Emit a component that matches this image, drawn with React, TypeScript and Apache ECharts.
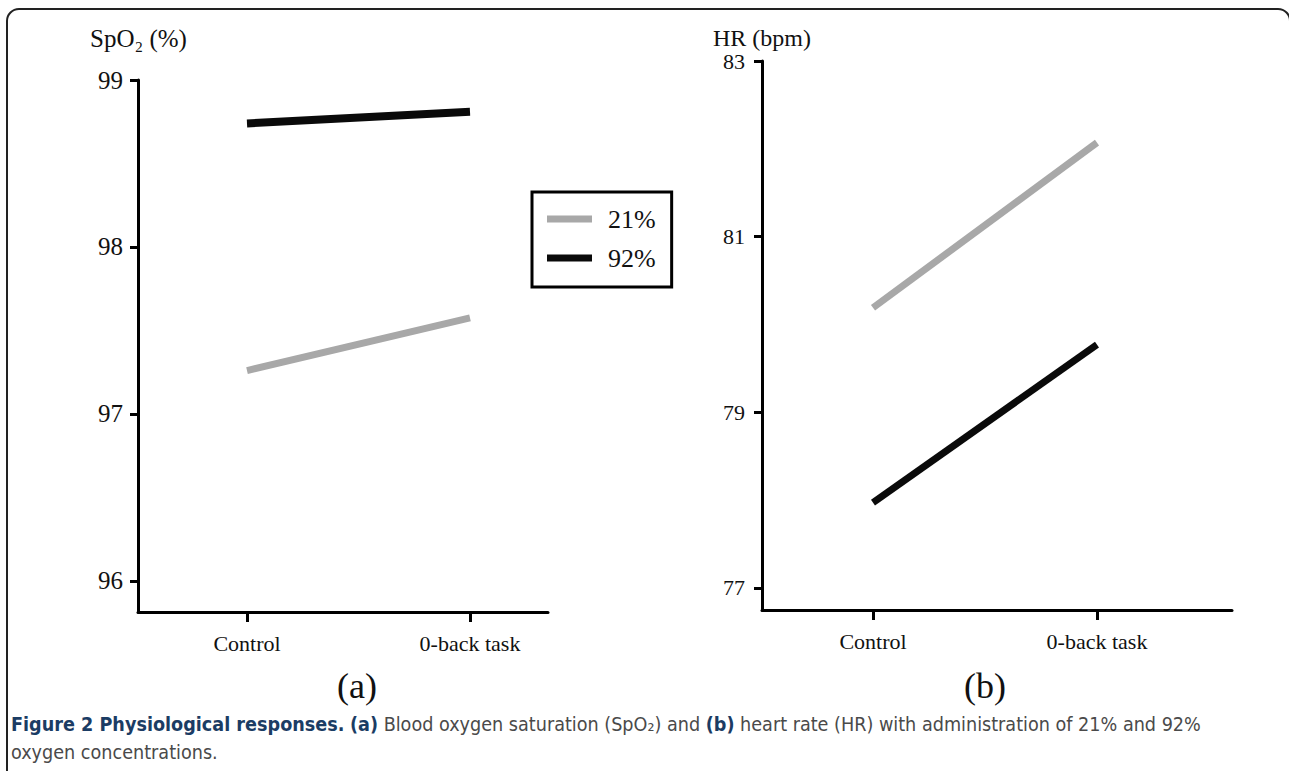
import React, { useEffect, useRef } from "react";
import * as echarts from "echarts";

const categories = ["Control", "0-back task"];
const seriesNames = ["21%", "92%"];
const spo2_21 = [97.26, 97.575];
const spo2_92 = [98.74, 98.81];
const hr_21 = [80.19, 82.07];
const hr_92 = [77.97, 79.77];
const spo2Ticks = [96, 97, 98, 99];
const hrTicks = [77, 79, 81, 83];

const SERIF = "'Liberation Serif', 'Times New Roman', serif";
const CAP = "'Liberation Sans Narrow', 'DejaVu Sans Condensed', 'Open Sans', sans-serif";

const toXY = (arr: number[]) => arr.map((v, i) => [i, v]);

export default function App() {
  const ref = useRef<HTMLDivElement>(null);
  useEffect(() => {
    if (!ref.current) return;
    const chart = echarts.init(ref.current, null, { renderer: "svg" });
    const axisLine = { show: true, onZero: false, lineStyle: { color: "#000", width: 3 } };
    const xAxisBase = (gridIndex: number, min: number, max: number) => ({
      gridIndex,
      type: "value",
      min,
      max,
      splitLine: { show: false },
      axisLine,
      axisTick: { show: true, customValues: [0, 1], length: 10, lineStyle: { color: "#000", width: 3 } },
      axisLabel: {
        show: true,
        customValues: [0, 1],
        formatter: (v: number) => categories[Math.round(v)] ?? "",
        fontFamily: SERIF,
        fontSize: 22,
        color: "#111",
        margin: 20,
      },
    });
    const yAxisBase = (gridIndex: number, min: number, max: number, ticks: number[], fs: number, margin: number) => ({
      gridIndex,
      type: "value",
      min,
      max,
      splitLine: { show: false },
      axisLine,
      axisTick: { show: true, customValues: ticks, length: 8, lineStyle: { color: "#000", width: 3 } },
      axisLabel: {
        show: true,
        customValues: ticks,
        fontFamily: SERIF,
        fontSize: fs,
        color: "#111",
        margin,
      },
    });
    const lineSeries = (name: string, data: number[], color: string, w: number, idx: number) => ({
      name,
      type: "line",
      xAxisIndex: idx,
      yAxisIndex: idx,
      data: toXY(data),
      symbol: "none",
      lineStyle: { color, width: w, cap: "butt" },
      itemStyle: { color },
      silent: true,
    });
    const option: any = {
      animation: false,
      backgroundColor: "#fff",
      grid: [
        { left: 138, top: 80, width: 410, height: 532 },
        { left: 762, top: 61, width: 470, height: 549 },
      ],
      xAxis: [xAxisBase(0, -0.4888, 1.3498), xAxisBase(1, -0.4955, 1.6027)],
      yAxis: [
        yAxisBase(0, 95.814, 99, spo2Ticks, 25, 15),
        yAxisBase(1, 76.748, 83, hrTicks, 22, 17),
      ],
      legend: {
        orient: "vertical",
        left: 532,
        top: 192,
        data: seriesNames,
        icon: "rect",
        itemWidth: 45,
        itemHeight: 7,
        itemGap: 13,
        padding: [14, 16, 16, 15],
        borderColor: "#000",
        borderWidth: 3,
        textStyle: { fontFamily: SERIF, fontSize: 26, color: "#111", padding: [0, 0, 0, 11], lineHeight: 26 },
      },
      series: [
        lineSeries(seriesNames[0], spo2_21, "#a8a8a8", 7, 0),
        lineSeries(seriesNames[1], spo2_92, "#0a0a0a", 8, 0),
        lineSeries(seriesNames[0], hr_21, "#a8a8a8", 7, 1),
        lineSeries(seriesNames[1], hr_92, "#0a0a0a", 7, 1),
      ],
      graphic: [
        {
          type: "rect",
          shape: { x: 7, y: 9, width: 1283, height: 800, r: 12 },
          style: { fill: "none", stroke: "#222", lineWidth: 2 },
          silent: true,
        },
        {
          type: "text",
          x: 90,
          y: 38,
          style: { text: "SpO₂ (%)", font: `25px ${SERIF}`, fill: "#111", verticalAlign: "middle" },
        },
        {
          type: "text",
          x: 713,
          y: 38,
          style: { text: "HR (bpm)", font: `24px ${SERIF}`, fill: "#111", verticalAlign: "middle" },
        },
        {
          type: "text",
          x: 357,
          y: 686,
          style: { text: "(a)", font: `36px ${SERIF}`, fill: "#111", align: "center", verticalAlign: "middle" },
        },
        {
          type: "text",
          x: 985,
          y: 686,
          style: { text: "(b)", font: `36px ${SERIF}`, fill: "#111", align: "center", verticalAlign: "middle" },
        },
        {
          type: "text",
          x: 11,
          y: 724,
          style: {
            text:
              "{t|Figure 2 Physiological responses.} {t|(a)} Blood oxygen saturation (SpO₂) and {t|(b)} heart rate (HR) with administration of 21% and 92%",
            fontFamily: CAP,
            fontSize: 19.6,
            fill: "#4a4a4a",
            verticalAlign: "middle",
            rich: {
              t: { fontFamily: CAP, fontSize: 19.6, fontWeight: "bold", fill: "#1b3c64", color: "#1b3c64" },
            },
          },
        },
        {
          type: "text",
          x: 11,
          y: 752,
          style: { text: "oxygen concentrations.", fontFamily: CAP, fontSize: 19.6, fill: "#4a4a4a", verticalAlign: "middle" },
        },
      ],
    };
    chart.setOption(option);
    return () => chart.dispose();
  }, []);
  return (
    <div
      ref={ref}
      style={{ position: "fixed", left: 0, top: 0, width: 1289, height: 771, background: "#fff" }}
    />
  );
}
